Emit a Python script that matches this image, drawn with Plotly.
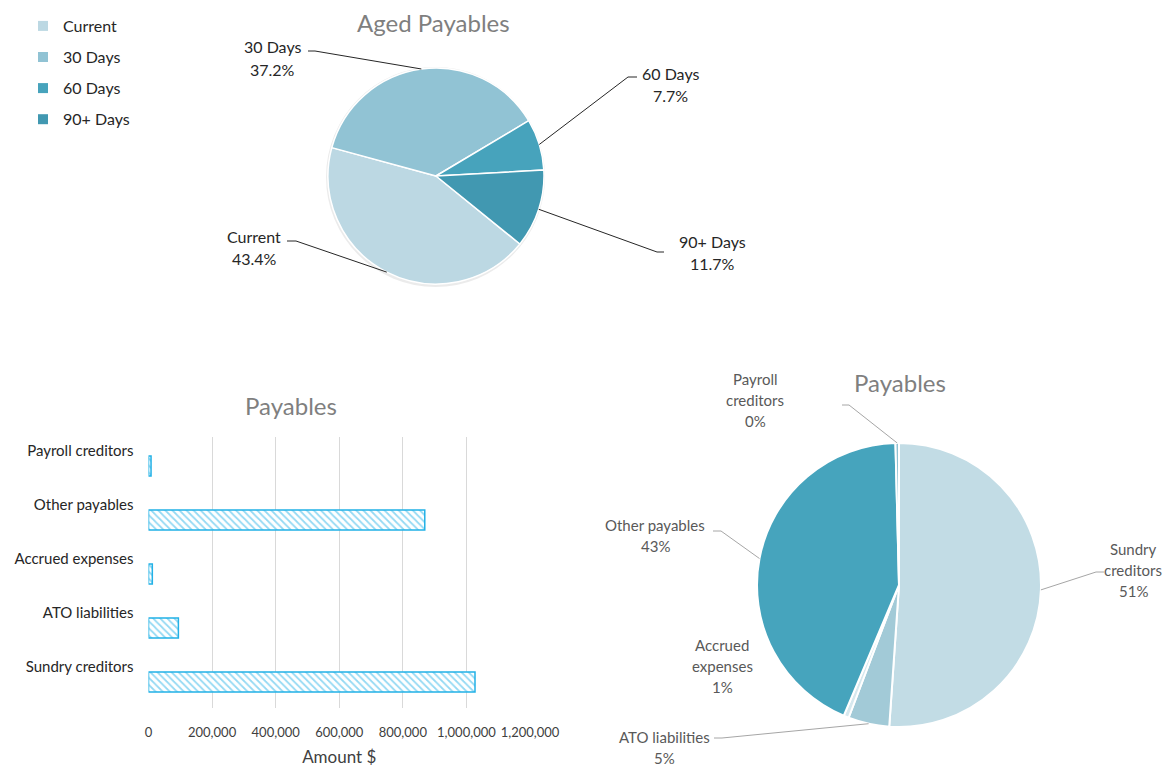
import math
import plotly.graph_objects as go

W, H = 1163, 767
FONT = "Lato"

# ---------------- data ----------------
aged_labels = ["Current", "30 Days", "60 Days", "90+ Days"]
aged_pct = [43.4, 37.2, 7.7, 11.7]
aged_colors = ["#bcd8e3", "#91c3d4", "#47a3bc", "#4198b1"]

pay_cats = ["Sundry creditors", "ATO liabilities", "Accrued expenses", "Other payables", "Payroll creditors"]
pay_values = [1027000, 94000, 12000, 869000, 8000]
pay_colors = ["#c2dce5", "#a2cad7", "#d6e8ee", "#46a4bd", "#8fc1d2"]
pay_pie_names = [["Sundry", "creditors"], ["ATO liabilities"], ["Accrued", "expenses"],
                 ["Other payables"], ["Payroll", "creditors"]]

x_tickvals = [0, 200000, 400000, 600000, 800000, 1000000, 1200000]
x_ticktext = ["0", "200,000", "400,000", "600,000", "800,000", "1,000,000", "1,200,000"]

# ---------------- layout config (pixels) ----------------
top_pie = dict(cx=436, cy=176, r=108, rotation=129)
bot_pie = dict(cx=899, cy=585, r=142, rotation=0)

# text centre, leader start, horizontal elbow length
top_lbl = {
    "Current": dict(t=(254, 247), s=(287, 241), dx=9),
    "30 Days": dict(t=(272, 58), s=(308, 51), dx=7),
    "60 Days": dict(t=(670, 85), s=(637, 77), dx=-9),
    "90+ Days": dict(t=(712, 252), s=(664, 252), dx=-7),
}
bot_lbl = {
    "Sundry creditors": dict(t=(1133, 570), s=(1104, 572), dx=-8),
    "ATO liabilities": dict(t=(664, 747), s=(714, 738), dx=8),
    "Accrued expenses": dict(t=(722, 666), s=None, dx=0),
    "Other payables": dict(t=(655, 535), s=(713, 531), dx=8),
    "Payroll creditors": dict(t=(755, 400), s=(842, 405), dx=7),
}


def px(x):
    return x / W


def py(y):
    return 1 - y / H


def pie_domain(p):
    return dict(x=[px(p["cx"] - p["r"]), px(p["cx"] + p["r"])],
                y=[py(p["cy"] + p["r"]), py(p["cy"] - p["r"])])


def mid_edges(values, p):
    tot = sum(values)
    out = []
    a = p["rotation"]
    for v in values:
        span = v / tot * 360
        m = math.radians(a + span / 2)
        out.append((p["cx"] + p["r"] * math.sin(m), p["cy"] - p["r"] * math.cos(m)))
        a += span
    return out


fig = go.Figure()

# ---- top pie ----
fig.add_trace(go.Pie(
    labels=aged_labels, values=aged_pct, sort=False, direction="clockwise",
    rotation=top_pie["rotation"], domain=pie_domain(top_pie),
    marker=dict(colors=aged_colors, line=dict(color="white", width=1.5)),
    textinfo="none", hoverinfo="label+percent", showlegend=False, automargin=False,
))

# ---- bottom pie ----
fig.add_trace(go.Pie(
    labels=pay_cats, values=pay_values, sort=False, direction="clockwise",
    rotation=bot_pie["rotation"], domain=pie_domain(bot_pie),
    marker=dict(colors=pay_colors, line=dict(color="white", width=2)),
    textinfo="none", hoverinfo="label+percent", showlegend=False, automargin=False,
))

# ---- bar chart ----
fig.add_trace(go.Bar(
    y=pay_cats, x=pay_values, orientation="h", width=0.37, offset=-0.463,
    marker=dict(color="white",
                line=dict(color="#22b1e6", width=1.5),
                pattern=dict(shape="\\", fgcolor="#2ab4e8", bgcolor="white",
                             size=5, solidity=0.35)),
    showlegend=False, xaxis="x", yaxis="y",
))

# ---- legend entries ----
for lab, col in zip(aged_labels, aged_colors):
    fig.add_trace(go.Scatter(
        x=[None], y=[None], mode="markers", name=lab, legendgroup=lab,
        marker=dict(symbol="square", size=10, color=col),
        xaxis="x2", yaxis="y2",
    ))

annotations = []
shapes = []

# top pie shadow
shapes.append(dict(type="circle", xref="paper", yref="paper", layer="below",
                   x0=px(top_pie["cx"] - top_pie["r"] - 2), x1=px(top_pie["cx"] + top_pie["r"] + 1),
                   y0=py(top_pie["cy"] + top_pie["r"] + 3), y1=py(top_pie["cy"] - top_pie["r"] - 1),
                   fillcolor="rgba(0,0,0,0.08)", line=dict(width=0)))


def add_label(lines, t, spacing, size, color):
    n = len(lines)
    for i, ln in enumerate(lines):
        yy = t[1] + (i - (n - 1) / 2) * spacing
        annotations.append(dict(text=ln, x=px(t[0]), y=py(yy), xref="paper", yref="paper",
                                showarrow=False, xanchor="center", yanchor="middle",
                                font=dict(family=FONT, size=size, color=color)))


def add_leader(cfg, edge, color, width):
    if cfg["s"] is None:
        return
    sx, sy = cfg["s"]
    ex, ey = sx + cfg["dx"], sy
    path = f"M {px(sx)} {py(sy)} L {px(ex)} {py(ey)} L {px(edge[0])} {py(edge[1])}"
    shapes.append(dict(type="path", path=path, xref="paper", yref="paper",
                       line=dict(color=color, width=width)))


# top labels
for lab, pct, edge in zip(aged_labels, aged_pct, mid_edges(aged_pct, top_pie)):
    cfg = top_lbl[lab]
    add_label([lab, f"{pct:.1f}%"], cfg["t"], 22, 16, "#262626")
    add_leader(cfg, edge, "#262626", 1)

# bottom labels
tot = sum(pay_values)
for cat, names, v, edge in zip(pay_cats, pay_pie_names, pay_values, mid_edges(pay_values, bot_pie)):
    cfg = bot_lbl[cat]
    add_label(names + [f"{round(v / tot * 100):.0f}%"], cfg["t"], 21, 15, "#595959")
    add_leader(cfg, edge, "#a6a6a6", 1)

# titles
for txt, (tx, ty), sz in [("Aged Payables", (433, 23), 24), ("Payables", (291, 406), 24),
                          ("Payables", (900, 382), 24)]:
    annotations.append(dict(text=txt, x=px(tx), y=py(ty), xref="paper", yref="paper",
                            showarrow=False, xanchor="center", yanchor="middle",
                            font=dict(family=FONT, size=sz, color="#7f7f7f")))

fig.update_layout(
    width=W, height=H, autosize=False,
    margin=dict(l=0, r=0, t=0, b=0, pad=0, autoexpand=False),
    paper_bgcolor="white", plot_bgcolor="white",
    font=dict(family=FONT, color="#404040"),
    annotations=annotations, shapes=shapes,
    legend=dict(x=px(23), y=py(9), xanchor="left", yanchor="top",
                font=dict(family=FONT, size=16, color="#262626"),
                tracegroupgap=7.3, itemclick=False, bgcolor="rgba(0,0,0,0)"),
    xaxis=dict(domain=[px(148.5), px(530)], range=[0, 1200000], tickvals=x_tickvals,
               ticktext=x_ticktext, showgrid=True, gridcolor="#d9d9d9", gridwidth=1,
               zeroline=False, showline=False, ticks="", ticklabelstandoff=15,
               automargin=False,
               tickfont=dict(family=FONT, size=13, color="#404040"),
               title=dict(text="Amount $", standoff=12,
                          font=dict(family=FONT, size=17, color="#404040")),
               anchor="y", fixedrange=True),
    yaxis=dict(domain=[py(708), py(437)], type="category", categoryorder="array",
               categoryarray=pay_cats, range=[-0.76, 4.26], showgrid=False,
               zeroline=False, showline=False, ticks="", ticklabelstandoff=14,
               automargin=False,
               tickfont=dict(family=FONT, size=15, color="#262626"),
               anchor="x", fixedrange=True),
    xaxis2=dict(domain=[0, 0.01], visible=False, anchor="y2"),
    yaxis2=dict(domain=[0.99, 1], visible=False, anchor="x2"),
)

fig.write_html(
    "out.html",
    config={"responsive": False, "displayModeBar": False},
    post_script="document.documentElement.style.overflow='hidden';"
                "document.body.style.margin='0px';document.body.style.overflow='hidden';",
)
